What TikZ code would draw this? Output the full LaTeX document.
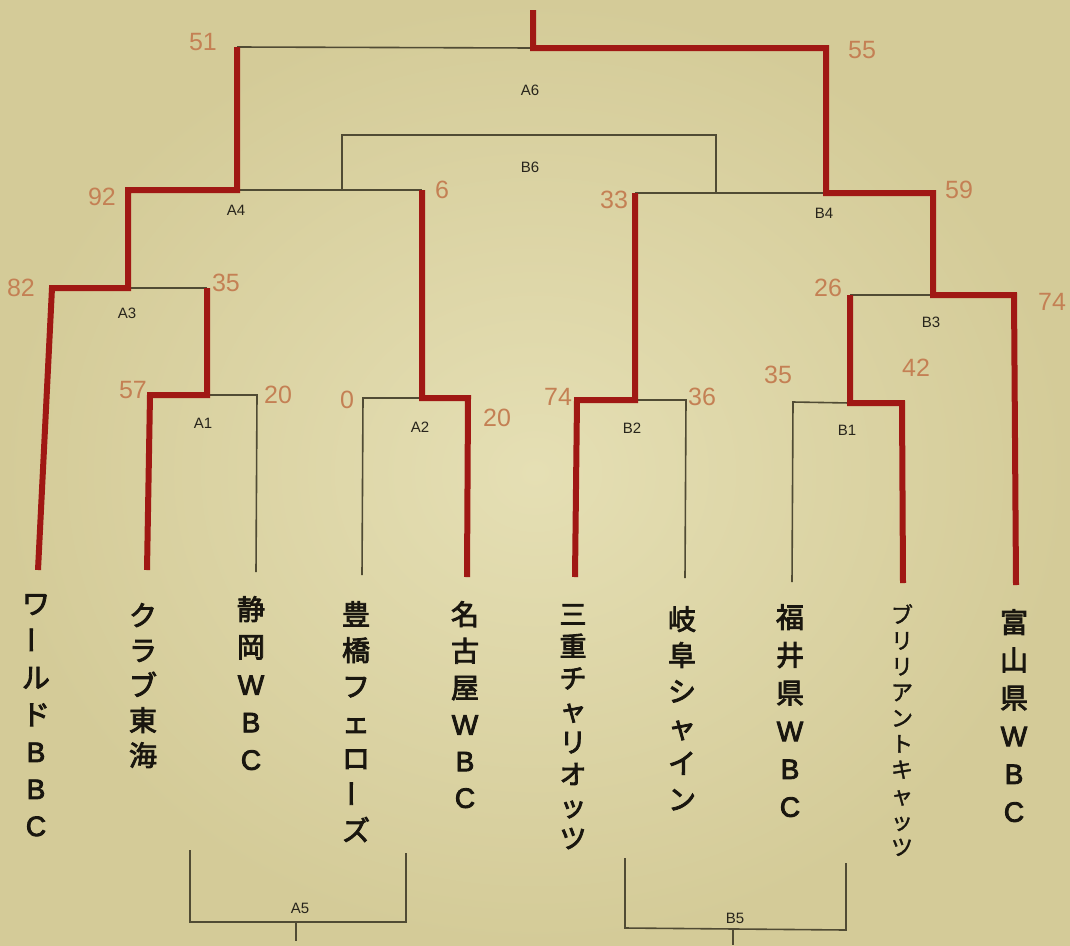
\documentclass[tikz,border=0pt]{standalone}
\usepackage{fontspec}
\usepackage{graphicx}
\newfontfamily\cjk{Noto Sans CJK JP}[FakeBold=3]
\newfontfamily\cjklight{Noto Sans CJK JP}[FakeBold=1.5]
\newfontfamily\latfont{Liberation Sans}[FakeBold=3]
\newfontfamily\labfont{Liberation Sans}
\newcommand{\vbarchar}{\raisebox{-0.1em}{\rotatebox{90}{ー}}}
\newcommand{\lat}[1]{{\latfont\fontsize{28}{28}\selectfont #1}}
\definecolor{paperhi}{RGB}{229,223,180}
\definecolor{paperlo}{RGB}{212,203,152}
\definecolor{ink}{RGB}{80,75,52}
\definecolor{redline}{RGB}{160,24,20}
\definecolor{scorecol}{RGB}{196,128,84}
\definecolor{labcol}{RGB}{40,37,28}
\definecolor{teamcol}{RGB}{25,22,15}
\tikzset{
  thinline/.style={draw=ink, line width=1.6pt, line join=miter},
  winline/.style={draw=redline, line width=6pt, line join=miter},
  team/.style={anchor=north, align=center, inner sep=0pt, text=teamcol},
  matchlab/.style={inner sep=0pt, text=labcol, font=\labfont\fontsize{15}{15}\selectfont},
  scorelab/.style={inner sep=0pt, text=scorecol, font=\labfont\fontsize{25}{25}\selectfont},
}
\begin{document}
\begin{tikzpicture}[x=1pt,y=-1pt]
\useasboundingbox (0,0) rectangle (1070,945);
\shade[inner color=paperhi, outer color=paperlo] (0,0) rectangle (1070,945);

% leaf ends
\coordinate (L1) at (38,570);
\coordinate (L2) at (147,570);
\coordinate (L3) at (256,572);
\coordinate (L4) at (362,575);
\coordinate (L5) at (467,577);
\coordinate (L6) at (575,577);
\coordinate (L7) at (685,578);
\coordinate (L8) at (792,582);
\coordinate (L9) at (903,583);
\coordinate (L10) at (1016,585);
% match junctions
\coordinate (A1l) at (150,395); \coordinate (A1m) at (207,395); \coordinate (A1r) at (257,395);
\coordinate (A3l) at (52,288);  \coordinate (A3m) at (128,288); \coordinate (A3r) at (207,288);
\coordinate (A2l) at (363,398); \coordinate (A2m) at (422,398); \coordinate (A2r) at (468,398);
\coordinate (A4l) at (128,190); \coordinate (A4m) at (237,190); \coordinate (A4r) at (422,190);
\coordinate (B6l) at (342,190); \coordinate (B6tl) at (342,135); \coordinate (B6tr) at (716,135); \coordinate (B6r) at (716,193);
\coordinate (A6l) at (237,47);  \coordinate (A6m) at (533,48);  \coordinate (A6r) at (826,48); \coordinate (topend) at (533,10);
\coordinate (B4l) at (635,193); \coordinate (B4m) at (826,193); \coordinate (B4r) at (933,193);
\coordinate (B2l) at (577,400); \coordinate (B2m) at (635,400); \coordinate (B2r) at (686,400);
\coordinate (B3l) at (850,295); \coordinate (B3m) at (933,295); \coordinate (B3r) at (1014,295);
\coordinate (B1l) at (793,402); \coordinate (B1m) at (850,403); \coordinate (B1r) at (902,403);
% A5 / B5 brackets
\coordinate (A5a) at (190,850); \coordinate (A5b) at (190,922); \coordinate (A5c) at (406,922); \coordinate (A5d) at (406,853);
\coordinate (A5s) at (296,922); \coordinate (A5e) at (296,941);
\coordinate (B5a) at (625,858); \coordinate (B5b) at (625,928); \coordinate (B5c) at (846,930); \coordinate (B5d) at (846,863);
\coordinate (B5s) at (733,929); \coordinate (B5e) at (733,945);

% thin lines
\draw[thinline] (A1m) -- (A1r) -- (L3);
\draw[thinline] (A3m) -- (A3r);
\draw[thinline] (A4m) -- (A4r);
\draw[thinline] (B6l) -- (B6tl) -- (B6tr) -- (B6r);
\draw[thinline] (L4) -- (A2l) -- (A2m);
\draw[thinline] (A6l) -- (A6m);
\draw[thinline] (B4l) -- (B4m);
\draw[thinline] (B2m) -- (B2r) -- (L7);
\draw[thinline] (L8) -- (B1l) -- (B1m);
\draw[thinline] (B3l) -- (B3m);
\draw[thinline] (A5a) -- (A5b) -- (A5c) -- (A5d);
\draw[thinline] (A5s) -- (A5e);
\draw[thinline] (B5a) -- (B5b) -- (B5c) -- (B5d);
\draw[thinline] (B5s) -- (B5e);

% winners (red)
\draw[winline] (L1) -- (A3l) -- (A3m) -- (A4l) -- (A4m) -- (A6l);
\draw[winline] (L2) -- (A1l) -- (A1m) -- (A3r);
\draw[winline] (L5) -- (A2r) -- (A2m) -- (A4r);
\draw[winline] (topend) -- (A6m) -- (A6r) -- (B4m) -- (B4r) -- (B3m) -- (B3r) -- (L10);
\draw[winline] (L6) -- (B2l) -- (B2m) -- (B4l);
\draw[winline] (L9) -- (B1r) -- (B1m) -- (B3l);

% match labels
\node[matchlab] (lA6) at (530,90) {A6};
\node[matchlab] (lB6) at (530,167) {B6};
\node[matchlab] (lA4) at (236,210) {A4};
\node[matchlab] (lB4) at (824,213) {B4};
\node[matchlab] (lA3) at (127,313) {A3};
\node[matchlab] (lB3) at (931,322) {B3};
\node[matchlab] (lA1) at (203,423) {A1};
\node[matchlab] (lA2) at (420,427) {A2};
\node[matchlab] (lB2) at (632,428) {B2};
\node[matchlab] (lB1) at (847,430) {B1};
\node[matchlab] (lA5) at (300,908) {A5};
\node[matchlab] (lB5) at (735,918) {B5};

% scores
\node[scorelab] (s51) at (203,42) {51};
\node[scorelab] (s55) at (862,50) {55};
\node[scorelab] (s92) at (102,197) {92};
\node[scorelab] (s6) at (442,190) {6};
\node[scorelab] (s33) at (614,200) {33};
\node[scorelab] (s59) at (959,190) {59};
\node[scorelab] (s82) at (21,288) {82};
\node[scorelab] (s35a) at (226,283) {35};
\node[scorelab] (s26) at (828,288) {26};
\node[scorelab] (s74a) at (1052,302) {74};
\node[scorelab] (s57) at (133,390) {57};
\node[scorelab] (s20a) at (278,395) {20};
\node[scorelab] (s0) at (347,400) {0};
\node[scorelab] (s20b) at (497,418) {20};
\node[scorelab] (s74b) at (558,397) {74};
\node[scorelab] (s36) at (702,397) {36};
\node[scorelab] (s35b) at (778,375) {35};
\node[scorelab] (s42) at (916,368) {42};

% teams (vertical)
\node[team, font=\cjk\fontsize{28}{37}\selectfont] (t1) at (36,594) {ワ\\\vbarchar\\ル\\ド\\\lat{B}\\\lat{B}\\\lat{C}};
\node[team, font=\cjk\fontsize{28}{35}\selectfont] (t2) at (143,603) {ク\\ラ\\ブ\\東\\海};
\node[team, font=\cjk\fontsize{28}{37.5}\selectfont] (t3) at (251,596) {静\\岡\\\lat{W}\\\lat{B}\\\lat{C}};
\node[team, font=\cjk\fontsize{28}{36}\selectfont] (t4) at (356,601) {豊\\橋\\フ\\ェ\\ロ\\\vbarchar\\ズ};
\node[team, font=\cjk\fontsize{28}{36.6}\selectfont] (t5) at (465,601) {名\\古\\屋\\\lat{W}\\\lat{B}\\\lat{C}};
\node[team, font=\cjk\fontsize{27}{32}\selectfont] (t6) at (573,604) {三\\重\\チ\\ャ\\リ\\オ\\ッ\\ツ};
\node[team, font=\cjk\fontsize{28}{36}\selectfont] (t7) at (682,606) {岐\\阜\\シ\\ャ\\イ\\ン};
\node[team, font=\cjk\fontsize{28}{37.8}\selectfont] (t8) at (790,604) {福\\井\\県\\\lat{W}\\\lat{B}\\\lat{C}};
\node[team, font=\cjklight\fontsize{22}{25.8}\selectfont] (t9) at (902,604) {ブ\\リ\\リ\\ア\\ン\\ト\\キ\\ャ\\ッ\\ツ};
\node[team, font=\cjk\fontsize{28}{37.8}\selectfont] (t10) at (1014,609) {富\\山\\県\\\lat{W}\\\lat{B}\\\lat{C}};
\end{tikzpicture}
\end{document}
